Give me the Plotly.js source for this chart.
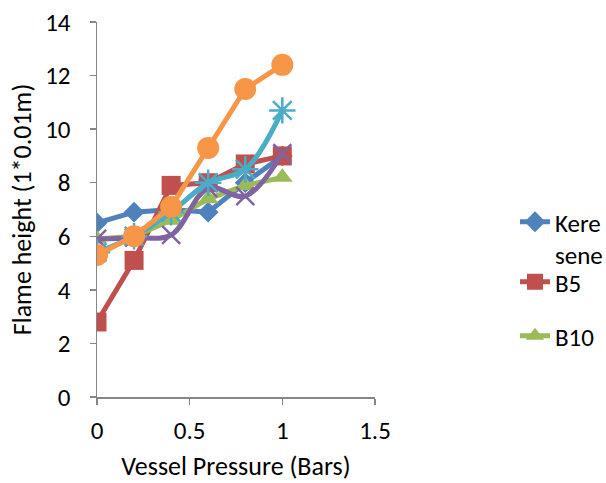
<!DOCTYPE html>
<html>
<head>
<meta charset="utf-8">
<script src="https://cdn.plot.ly/plotly-3.0.1.min.js"></script>
<style>html,body{margin:0;padding:0;background:#fff;}#chart{width:606px;height:483px;}</style>
</head>
<body>
<div id="chart"></div>
<script>
const pressure = [0, 0.2, 0.4, 0.6, 0.8, 1];
const kerosene = [6.5, 6.9, 7.0, 6.9, 8.0, 9.0];
const b5 = [2.8, 5.1, 7.9, 8.0, 8.7, 9.0];
const b10 = [5.9, 6.0, 6.6, 7.4, 7.9, 8.2];
const b15 = [5.9, 5.95, 6.05, 7.8, 7.5, 9.1];
const b20 = [5.4, 6.0, 6.9, 8.0, 8.5, 10.7];
const b25 = [5.3, 6.0, 7.1, 9.3, 11.5, 12.4];
const xTicks = [0, 0.5, 1, 1.5];
const xTickLabels = ['0', '0.5', '1', '1.5'];
const yTicks = [0, 2, 4, 6, 8, 10, 12, 14];

const font = 'Carlito, Calibri, Lato, "Open Sans", sans-serif';
const FS = 25;

function tr(name, y, color, symbol, size, shape, legend, openLine) {
  const t = {
    x: pressure, y: y, name: name, type: 'scatter', mode: 'lines+markers',
    line: {color: color, width: 5, shape: shape, smoothing: 1},
    marker: {color: color, symbol: symbol, size: size, line: {color: color, width: openLine || 0}},
    showlegend: !!legend
  };
  if (legend) t.legend = legend;
  return t;
}

const data = [
  tr('Kere<br>sene', kerosene, '#4F81BD', 'diamond', 16, 'linear', 'legend'),
  tr('B5', b5, '#C0504D', 'square', 19, 'linear', 'legend2'),
  tr('B10', b10, '#9BBB59', 'triangle-up', 18, 'linear', 'legend3'),
  tr('B15', b15, '#8064A2', 'x-thin-open', 18, 'spline', null, 2.5),
  tr('B20', b20, '#4BACC6', 'asterisk-open', 22, 'spline', null, 2.5),
  tr('B25', b25, '#F79646', 'circle', 22, 'linear', null)
];

const legFont = {family: font, size: FS, color: '#000'};
const legX = (515 - 97) / 278;
function leg(yCenter) {
  return {x: legX, y: (397 - yCenter) / 375, xanchor: 'left', yanchor: 'middle', valign: 'top',
    font: legFont, bgcolor: 'rgba(0,0,0,0)', borderwidth: 0};
}
const leg1 = leg(223);
leg1.yanchor = 'top';
leg1.y = (397 - 199) / 375;

const layout = {
  width: 606, height: 483,
  margin: {l: 97, r: 231, t: 22, b: 86, autoexpand: false},
  paper_bgcolor: '#fff', plot_bgcolor: '#fff',
  font: {family: font, size: FS, color: '#000'},
  xaxis: {
    range: [0, 1.5], tickvals: xTicks, ticktext: xTickLabels, automargin: true,
    showgrid: false, zeroline: false, showline: true, linecolor: '#868686', linewidth: 1.5,
    ticks: 'outside', ticklen: 6, tickcolor: '#868686', tickwidth: 1.5,
    tickfont: {family: font, size: FS, color: '#000'}, ticklabelstandoff: 4,
    title: {text: 'Vessel Pressure (Bars)', font: {family: font, size: 26, color: '#000'}, standoff: 12}
  },
  yaxis: {
    range: [0, 14], tickvals: yTicks,
    showgrid: false, zeroline: false, showline: true, linecolor: '#868686', linewidth: 1.5,
    ticks: 'outside', ticklen: 6, tickcolor: '#868686', tickwidth: 1.5,
    tickfont: {family: font, size: FS, color: '#000'}, ticklabelstandoff: 14,
    title: {text: 'Flame height (1*0.01m)', font: {family: font, size: 26, color: '#000'}, standoff: 6}
  },
  legend: leg1,
  legend2: leg(282),
  legend3: leg(336),
  showlegend: true
};

Plotly.newPlot('chart', data, layout, {displayModeBar: false, staticPlot: true});
</script>
</body>
</html>
